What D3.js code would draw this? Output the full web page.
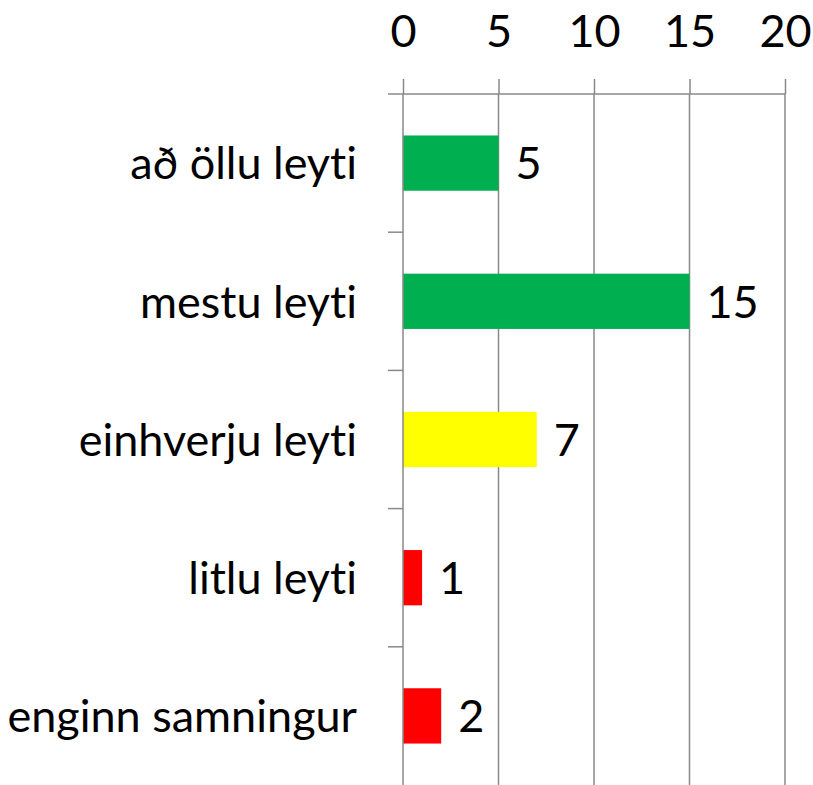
<!DOCTYPE html>
<html>
<head>
<meta charset="utf-8">
<script src="https://cdn.jsdelivr.net/npm/d3@7"></script>
<style>
  body { margin: 0; background: #fff; }
  svg text { font-family: Lato, "Open Sans", sans-serif; fill: #000; font-variant-ligatures: none; }
</style>
</head>
<body>
<div id="chart"></div>
<script>
var categories = ["að öllu leyti", "mestu leyti", "einhverju leyti", "litlu leyti", "enginn samningur"];
var values = [5, 15, 7, 1, 2];
var barColors = ["#00b050", "#00b050", "#ffff00", "#ff0000", "#ff0000"];
var ticks = [0, 5, 10, 15, 20];

var width = 813, height = 785;
var margin = {top: 94, right: 28, bottom: 0, left: 403};
var lineColor = "#898989";
var fontSize = 45;

var svg = d3.select("#chart").append("svg")
  .attr("width", width)
  .attr("height", height);

var x = d3.scaleLinear().domain([0, 20]).range([margin.left, width - margin.right]);
var y = d3.scaleBand().domain(categories).range([margin.top, height - margin.bottom]).paddingInner(0.6).paddingOuter(0.3);
var yb = d3.scaleBand().domain(categories).range([margin.top, height - margin.bottom]);

// gridlines
svg.append("g").selectAll("line")
  .data(ticks.slice(1))
  .enter().append("line")
    .attr("x1", function(d){ return x(d); })
    .attr("x2", function(d){ return x(d); })
    .attr("y1", margin.top)
    .attr("y2", height)
    .attr("stroke", lineColor)
    .attr("stroke-width", 1.5);

// top axis
var xAxis = d3.axisTop(x).tickValues(ticks).tickSize(15).tickPadding(32);
var gx = svg.append("g")
  .attr("transform", "translate(0," + margin.top + ")")
  .call(xAxis);
gx.select(".domain").remove();
gx.selectAll(".tick line").attr("stroke", lineColor).attr("stroke-width", 1.5);
gx.selectAll(".tick text").attr("font-size", fontSize).attr("font-family", "Lato, sans-serif").attr("fill", "#000");
gx.append("line")
  .attr("x1", margin.left - 15).attr("x2", x(20))
  .attr("y1", 0).attr("y2", 0)
  .attr("stroke", lineColor).attr("stroke-width", 1.5);

// bars
svg.append("g").selectAll("rect")
  .data(values)
  .enter().append("rect")
    .attr("x", x(0))
    .attr("y", function(d, i){ return y(categories[i]); })
    .attr("width", function(d){ return x(d) - x(0); })
    .attr("height", y.bandwidth())
    .attr("fill", function(d, i){ return barColors[i]; });

// value labels
svg.append("g").selectAll("text")
  .data(values)
  .enter().append("text")
    .attr("x", function(d){ return x(d) + 17; })
    .attr("y", function(d, i){ return y(categories[i]) + y.bandwidth() / 2; })
    .attr("dy", "0.36em")
    .attr("font-size", fontSize)
    .text(function(d){ return d; });

// left category axis
var yAxis = d3.axisLeft(yb).tickSize(0).tickPadding(46);
var gy = svg.append("g")
  .attr("transform", "translate(" + margin.left + ",0)")
  .call(yAxis);
gy.select(".domain").remove();
gy.selectAll(".tick text").attr("font-size", fontSize).attr("font-family", "Lato, sans-serif").attr("fill", "#000").attr("dy", "0.36em");

svg.append("line")
  .attr("x1", margin.left).attr("x2", margin.left)
  .attr("y1", margin.top).attr("y2", height)
  .attr("stroke", lineColor).attr("stroke-width", 1.5);

svg.append("g").selectAll("line")
  .data(categories.slice(1))
  .enter().append("line")
    .attr("x1", margin.left - 15).attr("x2", margin.left)
    .attr("y1", function(d){ return yb(d); })
    .attr("y2", function(d){ return yb(d); })
    .attr("stroke", lineColor).attr("stroke-width", 1.5);
</script>
</body>
</html>
